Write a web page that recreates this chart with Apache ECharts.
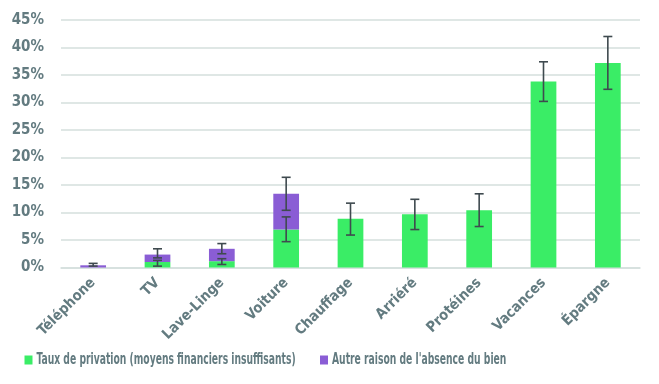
<!DOCTYPE html>
<html><head><meta charset="utf-8">
<script src="https://cdn.jsdelivr.net/npm/echarts@6/dist/echarts.min.js"></script>
<style>html,body{margin:0;padding:0;background:#fff}#c{width:659px;height:384px}</style>
</head><body><div id="c"></div>
<script>
const categories = ['Téléphone','TV','Lave-Linge','Voiture','Chauffage','Arriéré','Protéines','Vacances','Épargne'];
const seriesNames = ['Taux de privation (moyens financiers insuffisants)', "Autre raison de l'absence du bien"];
const yTicks = [0,5,10,15,20,25,30,35,40,45];
const greenValues = [0, 1.0, 1.15, 6.9, 8.85, 9.7, 10.4, 33.8, 37.2];
const purpleValues = [0.4, 1.35, 2.25, 6.5, null, null, null, null, null];
const totalErrLow  = [0.25, 1.75, 2.5, 10.4, 5.9, 6.9, 7.45, 30.2, 32.4];
const totalErrHigh = [0.75, 3.4, 4.35, 16.4, 11.7, 12.4, 13.4, 37.4, 42.0];
const greenErrLow  = [null, 0.25, 0.55, 4.7, null, null, null, null, null];
const greenErrHigh = [null, 1.3, 1.6, 9.2, null, null, null, null, null];

const txt = '#637b80';
const font = '"DejaVu Sans Condensed", "Liberation Sans Narrow", sans-serif';
const GREEN = '#3aed66', PURPLE = '#8a5dd5';

function errData(lo, hi){
  const out = [];
  lo.forEach((v,i)=>{ if(v!==null && hi[i]!==null) out.push([i, v, hi[i]]); });
  return out;
}
function renderErr(params, api){
  const x = api.value(0);
  const lo = api.coord([x, api.value(1)]);
  const hi = api.coord([x, api.value(2)]);
  const hw = 4.5;
  const style = {stroke:'#3f4a4f', lineWidth:1.6};
  return {type:'group', children:[
    {type:'line', shape:{x1:lo[0],y1:lo[1],x2:hi[0],y2:hi[1]}, style},
    {type:'line', shape:{x1:lo[0]-hw,y1:lo[1],x2:lo[0]+hw,y2:lo[1]}, style},
    {type:'line', shape:{x1:hi[0]-hw,y1:hi[1],x2:hi[0]+hw,y2:hi[1]}, style}
  ]};
}
function legendItem(x, color, name){
  return [
    {type:'rect', x:x, y:355.5, shape:{x:0, y:0, width:8, height:9}, style:{fill:color}},
    {type:'text', x:x+12, y:360, scaleX:0.62, originX:0, originY:0,
     style:{x:0, y:0, text:name, fill:txt, font:'bold 16.5px '+font, verticalAlign:'middle', align:'left'}}
  ];
}

const chart = echarts.init(document.getElementById('c'), null, {renderer:'canvas'});
chart.setOption({
  animation:false,
  grid:{left:61, right:19, top:20, bottom:116.5, containLabel:false},
  graphic:[].concat(legendItem(24.5, GREEN, seriesNames[0]), legendItem(320, PURPLE, seriesNames[1])),
  xAxis:{
    type:'category', data:categories,
    axisLine:{show:true, lineStyle:{color:'#d5dfdd', width:1.5}},
    axisTick:{show:false},
    axisLabel:{rotate:45, color:txt, fontFamily:font, fontWeight:'bold', fontSize:14.5, margin:13, interval:0}
  },
  yAxis:{
    type:'value', min:yTicks[0], max:yTicks[yTicks.length-1], interval:5,
    axisLine:{show:false}, axisTick:{show:false},
    splitLine:{lineStyle:{color:'#d5dfdd', width:1.5}},
    axisLabel:{formatter:v=>v+'%', color:txt, fontFamily:font, fontWeight:'bold', fontSize:15, margin:17}
  },
  series:[
    {name:seriesNames[0], type:'bar', stack:'s', data:greenValues, barWidth:'40%',
     itemStyle:{color:GREEN}},
    {name:seriesNames[1], type:'bar', stack:'s', data:purpleValues, barWidth:'40%',
     itemStyle:{color:PURPLE}},
    {type:'custom', renderItem:renderErr, data:errData(totalErrLow,totalErrHigh), z:10, encode:{x:0,y:[1,2]}},
    {type:'custom', renderItem:renderErr, data:errData(greenErrLow,greenErrHigh), z:10, encode:{x:0,y:[1,2]}}
  ]
});
</script></body></html>
